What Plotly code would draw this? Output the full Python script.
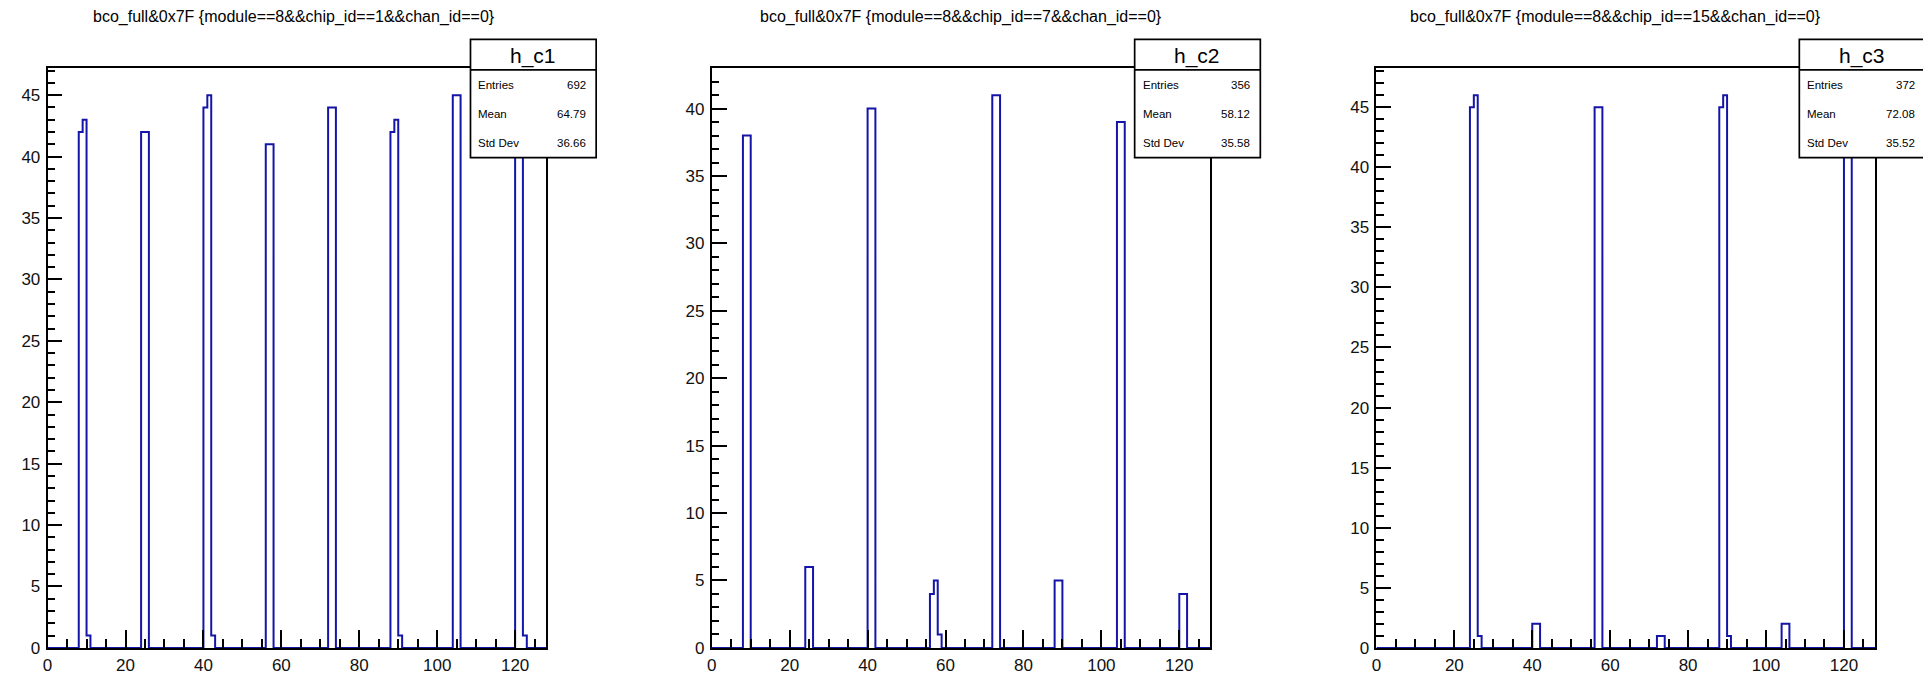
import plotly.graph_objects as go

# ---------------- data ----------------
NBINS = 128
titles = [
    "bco_full&0x7F {module==8&&chip_id==1&&chan_id==0}",
    "bco_full&0x7F {module==8&&chip_id==7&&chan_id==0}",
    "bco_full&0x7F {module==8&&chip_id==15&&chan_id==0}",
]
hist_names = ["h_c1", "h_c2", "h_c3"]

c1_bins = [8, 9, 10, 24, 25, 40, 41, 42, 56, 57, 72, 73, 88, 89, 90, 104, 105, 120, 121, 122]
c1_counts = [42, 43, 1, 42, 42, 44, 45, 1, 41, 41, 44, 44, 42, 43, 1, 45, 45, 42, 43, 1]

c2_bins = [8, 9, 24, 25, 40, 41, 56, 57, 58, 72, 73, 88, 89, 104, 105, 120, 121]
c2_counts = [38, 38, 6, 6, 40, 40, 4, 5, 1, 41, 41, 5, 5, 39, 39, 4, 4]

c3_bins = [24, 25, 26, 40, 41, 56, 57, 72, 73, 88, 89, 90, 104, 105, 120, 121]
c3_counts = [45, 46, 1, 2, 2, 45, 45, 1, 1, 45, 46, 1, 2, 2, 44, 44]

stat_labels = ["Entries", "Mean", "Std Dev"]
c1_stats = ["692", "64.79", "36.66"]
c2_stats = ["356", "58.12", "35.58"]
c3_stats = ["372", "72.08", "35.52"]

x_tickvals = [0, 20, 40, 60, 80, 100, 120]

# ---------------- layout helpers ----------------
W, H = 1923, 685
FONT = "Liberation Sans, Arial, sans-serif"
LINE_BLUE = "#1414a8"

frames_px = [(42.7, 542.7), (708.6, 1208.6), (1375.0, 1875.0)]
title_centers_px = [290, 958, 1615]
frame_top, frame_bot = 68.5, 657.5


def px(x):
    return x / W


def py(y):
    return 1 - y / H


def full_hist(bins, counts):
    vals = [0] * NBINS
    for b, c in zip(bins, counts):
        vals[b] = c
    return vals


panels = [
    (c1_bins, c1_counts, c1_stats),
    (c2_bins, c2_counts, c2_stats),
    (c3_bins, c3_counts, c3_stats),
]

fig = go.Figure()
shapes = []
annotations = []

for i, (bins, counts, stats) in enumerate(panels):
    vals = full_hist(bins, counts)
    edges = list(range(NBINS + 1))
    ys = vals + [vals[-1]]
    sfx = "" if i == 0 else str(i + 1)
    fig.add_trace(go.Scatter(
        x=edges, y=ys, mode="lines", line=dict(color=LINE_BLUE, width=2, shape="hv"),
        xaxis="x" + sfx, yaxis="y" + sfx, showlegend=False, hoverinfo="skip",
    ))
    x0, x1 = frames_px[i]
    ymax = 1.05 * max(counts)
    axis_common = dict(
        showline=True, linecolor="black", linewidth=1.7, mirror=True,
        ticks="inside", tickcolor="black", tickwidth=1.6,
        showgrid=False, zeroline=False,
        tickfont=dict(family=FONT, size=17, color="#111111"),
    )
    fig.update_layout(**{
        "xaxis" + sfx: dict(
            domain=[px(x0), px(x1)], range=[0, NBINS], anchor="y" + sfx,
            tickmode="array", tickvals=x_tickvals, ticklen=18.5,
            minor=dict(dtick=5, tick0=0, ticklen=9, ticks="inside", tickcolor="black", tickwidth=1.6),
            ticklabelstandoff=1,
            **axis_common,
        ),
        "yaxis" + sfx: dict(
            domain=[py(frame_bot), py(frame_top)], range=[0, ymax], anchor="x" + sfx,
            dtick=5, tick0=0, ticklen=15,
            minor=dict(dtick=1, tick0=0, ticklen=7.5, ticks="inside", tickcolor="black", tickwidth=1.6),
            ticklabelstandoff=2,
            **axis_common,
        ),
    })

    # panel title
    annotations.append(dict(
        x=px(title_centers_px[i]), y=py(17), xref="paper", yref="paper",
        text=titles[i], showarrow=False, xanchor="center", yanchor="middle",
        font=dict(family=FONT, size=16, color="black"),
    ))

    # stats box
    bx0, bx1 = x1 - 76, x1 + 50
    by0, by1, bdiv = 40, 160, 71
    shapes.append(dict(type="rect", xref="paper", yref="paper",
                       x0=px(bx0), x1=px(bx1), y0=py(by1), y1=py(by0),
                       fillcolor="white", line=dict(color="black", width=1.7), layer="above"))
    shapes.append(dict(type="line", xref="paper", yref="paper",
                       x0=px(bx0), x1=px(bx1), y0=py(bdiv), y1=py(bdiv),
                       line=dict(color="black", width=1.7), layer="above"))
    annotations.append(dict(
        x=px((bx0 + bx1) / 2), y=py((by0 + bdiv) / 2 + 1), xref="paper", yref="paper",
        text=hist_names[i], showarrow=False, xanchor="center", yanchor="middle",
        font=dict(family=FONT, size=21, color="black"),
    ))
    row_h = (by1 - bdiv) / 3
    for r, (lab, val) in enumerate(zip(stat_labels, stats)):
        yc = bdiv + row_h * (r + 0.5)
        annotations.append(dict(
            x=px(bx0 + 6), y=py(yc), xref="paper", yref="paper", text=lab,
            showarrow=False, xanchor="left", yanchor="middle",
            font=dict(family=FONT, size=11.5, color="black"),
        ))
        annotations.append(dict(
            x=px(bx1 - 8), y=py(yc), xref="paper", yref="paper", text=val,
            showarrow=False, xanchor="right", yanchor="middle",
            font=dict(family=FONT, size=11.5, color="black"),
        ))

fig.update_layout(
    width=W, height=H, margin=dict(l=0, r=0, t=0, b=0),
    paper_bgcolor="white", plot_bgcolor="white",
    shapes=shapes, annotations=annotations, showlegend=False,
    font=dict(family=FONT, color="black"),
)

fig.write_html("out.html")
